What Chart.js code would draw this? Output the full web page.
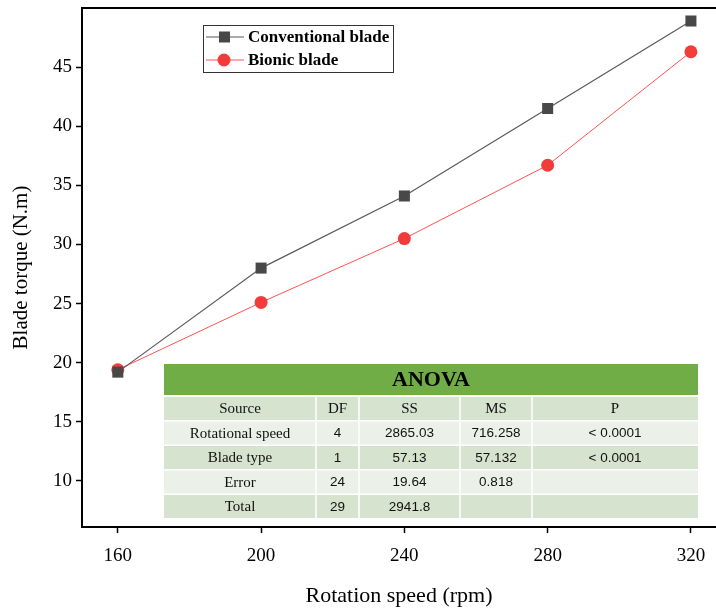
<!DOCTYPE html>
<html>
<head>
<meta charset="utf-8">
<script src="https://cdn.jsdelivr.net/npm/chart.js@4.4.1/dist/chart.umd.min.js"></script>
<style>
  html, body { margin: 0; padding: 0; background: #fff; }
  #wrap { width: 716px; height: 610px; }
</style>
</head>
<body>
<div id="wrap"><canvas id="c" width="716" height="610"></canvas></div>
<script>
// rotation speed (rpm) and torque readings
const speeds = [160, 200, 240, 280, 320];
const conventional = [19.2, 28.0, 34.1, 41.5, 48.9];
const bionic = [19.4, 25.1, 30.5, 36.7, 46.3];

const xTicks = [160, 200, 240, 280, 320];
const yTicks = [10, 15, 20, 25, 30, 35, 40, 45];

// ANOVA table
const anovaHeader = ["Source", "DF", "SS", "MS", "P"];
const anovaRows = [
  ["Rotational speed", "4", "2865.03", "716.258", "< 0.0001"],
  ["Blade type", "1", "57.13", "57.132", "< 0.0001"],
  ["Error", "24", "19.64", "0.818", ""],
  ["Total", "29", "2941.8", "", ""]
];

const serif = '"Liberation Serif", "Times New Roman", serif';
const sans = '"Liberation Sans", Arial, sans-serif';

const toPoints = (ys) => ys.map((y, i) => ({ x: speeds[i], y }));

// legend drawn inside the plot, top-left
const legendBox = {
  id: 'legendBox',
  afterDatasetsDraw(chart) {
    const ctx = chart.ctx;
    const x = 203, y = 25, w = 190, h = 47;
    ctx.save();
    ctx.fillStyle = '#fff';
    ctx.fillRect(x, y, w, h);
    ctx.strokeStyle = '#333';
    ctx.lineWidth = 1;
    ctx.strokeRect(x + 0.5, y + 0.5, w, h);
    chart.data.datasets.forEach((ds, i) => {
      const cy = y + 12 + i * 23;
      ctx.strokeStyle = ds.borderColor;
      ctx.lineWidth = ds.borderWidth;
      ctx.beginPath();
      ctx.moveTo(x + 3, cy);
      ctx.lineTo(x + 41, cy);
      ctx.stroke();
      ctx.fillStyle = ds.pointBackgroundColor;
      if (ds.pointStyle === 'rect') {
        ctx.fillRect(x + 16, cy - 5.5, 11, 11);
      } else {
        ctx.beginPath();
        ctx.arc(x + 21, cy, 6.5, 0, Math.PI * 2);
        ctx.fill();
      }
      ctx.fillStyle = '#000';
      ctx.font = 'bold 17px ' + serif;
      ctx.textBaseline = 'middle';
      ctx.fillText(ds.label, x + 45, cy + 1);
    });
    ctx.restore();
  }
};

const anovaTable = {
  id: 'anovaTable',
  afterDatasetsDraw(chart) {
    const ctx = chart.ctx;
    const left = 164, right = 698;
    const cols = [164, 316, 359, 460, 532, 698];
    const headTop = 364, headBottom = 395;
    const rowTop = 397, rowH = 24.5;
    ctx.save();
    ctx.fillStyle = '#70ad47';
    ctx.fillRect(left, headTop, right - left, headBottom - headTop);
    ctx.fillStyle = '#000';
    ctx.font = 'bold 22px ' + serif;
    ctx.textAlign = 'center';
    ctx.textBaseline = 'middle';
    ctx.fillText('ANOVA', (left + right) / 2, (headTop + headBottom) / 2 + 1);

    const all = [anovaHeader].concat(anovaRows);
    all.forEach((row, r) => {
      const top = rowTop + r * rowH;
      ctx.fillStyle = r % 2 === 0 ? '#d6e3cf' : '#ebf1e8';
      ctx.fillRect(left, top, right - left, rowH - 1.5);
      ctx.strokeStyle = '#fff';
      ctx.lineWidth = 1.5;
      for (let c = 1; c < cols.length - 1; c++) {
        ctx.beginPath();
        ctx.moveTo(cols[c], top);
        ctx.lineTo(cols[c], top + rowH);
        ctx.stroke();
      }
      row.forEach((txt, c) => {
        const cx = (cols[c] + cols[c + 1]) / 2;
        const useSerif = r === 0 || c === 0;
        ctx.font = (useSerif ? '15px ' + serif : '13.5px ' + sans);
        ctx.fillStyle = '#111';
        ctx.fillText(txt, cx, top + rowH / 2);
      });
    });
    ctx.restore();
  }
};

// top frame line of the plot box
const frameTop = {
  id: 'frameTop',
  afterDraw(chart) {
    const a = chart.chartArea;
    const ctx = chart.ctx;
    ctx.save();
    ctx.strokeStyle = '#000';
    ctx.lineWidth = 2;
    ctx.beginPath();
    ctx.moveTo(a.left, a.top);
    ctx.lineTo(a.right, a.top);
    ctx.stroke();
    ctx.restore();
  }
};

new Chart(document.getElementById('c'), {
  type: 'line',
  data: {
    datasets: [
      {
        label: 'Conventional blade',
        data: toPoints(conventional),
        borderColor: '#5a5a5a',
        borderWidth: 1.2,
        pointStyle: 'rect',
        pointRadius: 7.8,
        pointBackgroundColor: '#484848',
        pointBorderWidth: 0,
        tension: 0
      },
      {
        label: 'Bionic blade',
        data: toPoints(bionic),
        borderColor: '#ff5252',
        borderWidth: 1,
        pointStyle: 'circle',
        pointRadius: 6.5,
        pointBackgroundColor: '#f23b3b',
        pointBorderWidth: 0,
        tension: 0
      }
    ]
  },
  options: {
    responsive: false,
    animation: false,
    layout: { autoPadding: false, padding: { top: 8, right: 0, left: 0, bottom: 0 } },
    plugins: { legend: { display: false }, tooltip: { enabled: false } },
    scales: {
      x: {
        type: 'linear',
        min: 150,
        max: 327,
        afterFit: (s) => { s.height = 83; s.paddingLeft = 0; s.paddingRight = 0; },
        afterBuildTicks: (s) => { s.ticks = xTicks.map(v => ({ value: v })); },
        grid: { drawOnChartArea: false, tickLength: 6, tickColor: '#000', tickWidth: 1.5 },
        border: { color: '#000', width: 2 },
        ticks: { color: '#000', font: { family: serif, size: 19 }, padding: 12, maxRotation: 0 },
        title: { display: true, text: 'Rotation speed (rpm)', color: '#000', font: { family: serif, size: 22 }, padding: { top: 0, bottom: 1 } }
      },
      y: {
        min: 6.1,
        max: 50,
        afterFit: (s) => { s.width = 82; s.paddingTop = 0; s.paddingBottom = 0; },
        afterBuildTicks: (s) => { s.ticks = yTicks.map(v => ({ value: v })); },
        grid: { drawOnChartArea: false, tickLength: 6, tickColor: '#000', tickWidth: 1.5 },
        border: { color: '#000', width: 2 },
        ticks: { color: '#000', font: { family: serif, size: 19 }, padding: 4 },
        title: { display: true, text: 'Blade torque (N.m)', color: '#000', font: { family: serif, size: 21 }, padding: { top: 9, bottom: 0 } }
      }
    }
  },
  plugins: [anovaTable, legendBox, frameTop]
});
</script>
</body>
</html>
